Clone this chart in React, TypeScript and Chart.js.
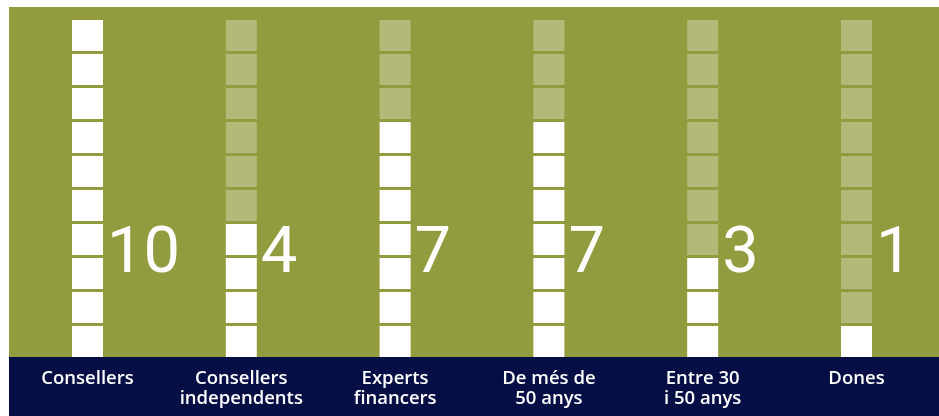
import React, { useEffect, useRef } from "react";
import { Chart, registerables } from "chart.js";

Chart.register(...registerables);

// ---- data ----
const categories: string[][] = [
  ["Consellers"],
  ["Consellers", "independents"],
  ["Experts", "financers"],
  ["De més de", "50 anys"],
  ["Entre 30", "i 50 anys"],
  ["Dones"],
];
const counts: number[] = [10, 4, 7, 7, 3, 1];
const totalUnits = 10;
const valueLabels: string[] = ["10", "4", "7", "7", "3", "1"];

// ---- style ----
const GREEN = "#939b3f";
const NAVY = "#050e45";
const FILLED = "#ffffff";
const EMPTY = "rgba(255,255,255,0.3)";
const UNIT_FILL = 0.91;
const LABEL_LEVEL = 3.15;

export default function App() {
  const ref = useRef<HTMLCanvasElement | null>(null);

  useEffect(() => {
    document.body.style.margin = "0";
    const canvas = ref.current;
    if (!canvas) return;

    const datasets = Array.from({ length: totalUnits }, (_, i) => ({
      label: `u${i}`,
      data: counts.map(() => [i, i + UNIT_FILL] as [number, number]),
      backgroundColor: counts.map((c) => (i < c ? FILLED : EMPTY)),
      borderWidth: 0,
      grouped: false,
      barPercentage: 0.2016,
      categoryPercentage: 1,
    }));

    const bgPlugin = {
      id: "bg",
      beforeDraw(chart: any) {
        const { ctx, chartArea } = chart;
        ctx.save();
        ctx.fillStyle = GREEN;
        ctx.fillRect(9, 7, chart.width - 9, chartArea.bottom - 7);
        ctx.fillStyle = NAVY;
        ctx.fillRect(9, chartArea.bottom, chart.width - 9, chart.height - chartArea.bottom);
        ctx.restore();
      },
    };

    const valuePlugin = {
      id: "values",
      afterDatasetsDraw(chart: any) {
        const { ctx } = chart;
        const meta = chart.getDatasetMeta(0);
        const y = chart.scales.y.getPixelForValue(LABEL_LEVEL);
        ctx.save();
        ctx.fillStyle = "#ffffff";
        ctx.font = "400 65px Roboto";
        ctx.textAlign = "left";
        ctx.textBaseline = "middle";
        meta.data.forEach((bar: any, j: number) => {
          ctx.fillText(valueLabels[j], bar.x + bar.width / 2 + 4, y + 6);
        });
        ctx.restore();
      },
    };

    const chart = new Chart(canvas, {
      type: "bar",
      data: { labels: categories, datasets: datasets as any },
      options: {
        responsive: false,
        animation: false,
        layout: { padding: { left: 10.6, right: 5.6, top: 17, bottom: 0 } },
        plugins: { legend: { display: false }, tooltip: { enabled: false } },
        scales: {
          x: {
            grid: { display: false, drawTicks: false },
            border: { display: false },
            ticks: {
              color: "#ffffff",
              padding: 12,
              maxRotation: 0,
              autoSkip: false,
              font: { family: "'Open Sans'", size: 18.5, weight: 600, lineHeight: 1.08 },
            },
            afterFit(scale: any) {
              scale.height = 59;
            },
          },
          y: {
            display: false,
            min: 0,
            max: totalUnits,
            afterFit(scale: any) {
              scale.width = 0;
            },
          },
        },
      } as any,
      plugins: [bgPlugin, valuePlugin],
    });

    return () => chart.destroy();
  }, []);

  return <canvas ref={ref} width={939} height={416} style={{ display: "block" }} />;
}
